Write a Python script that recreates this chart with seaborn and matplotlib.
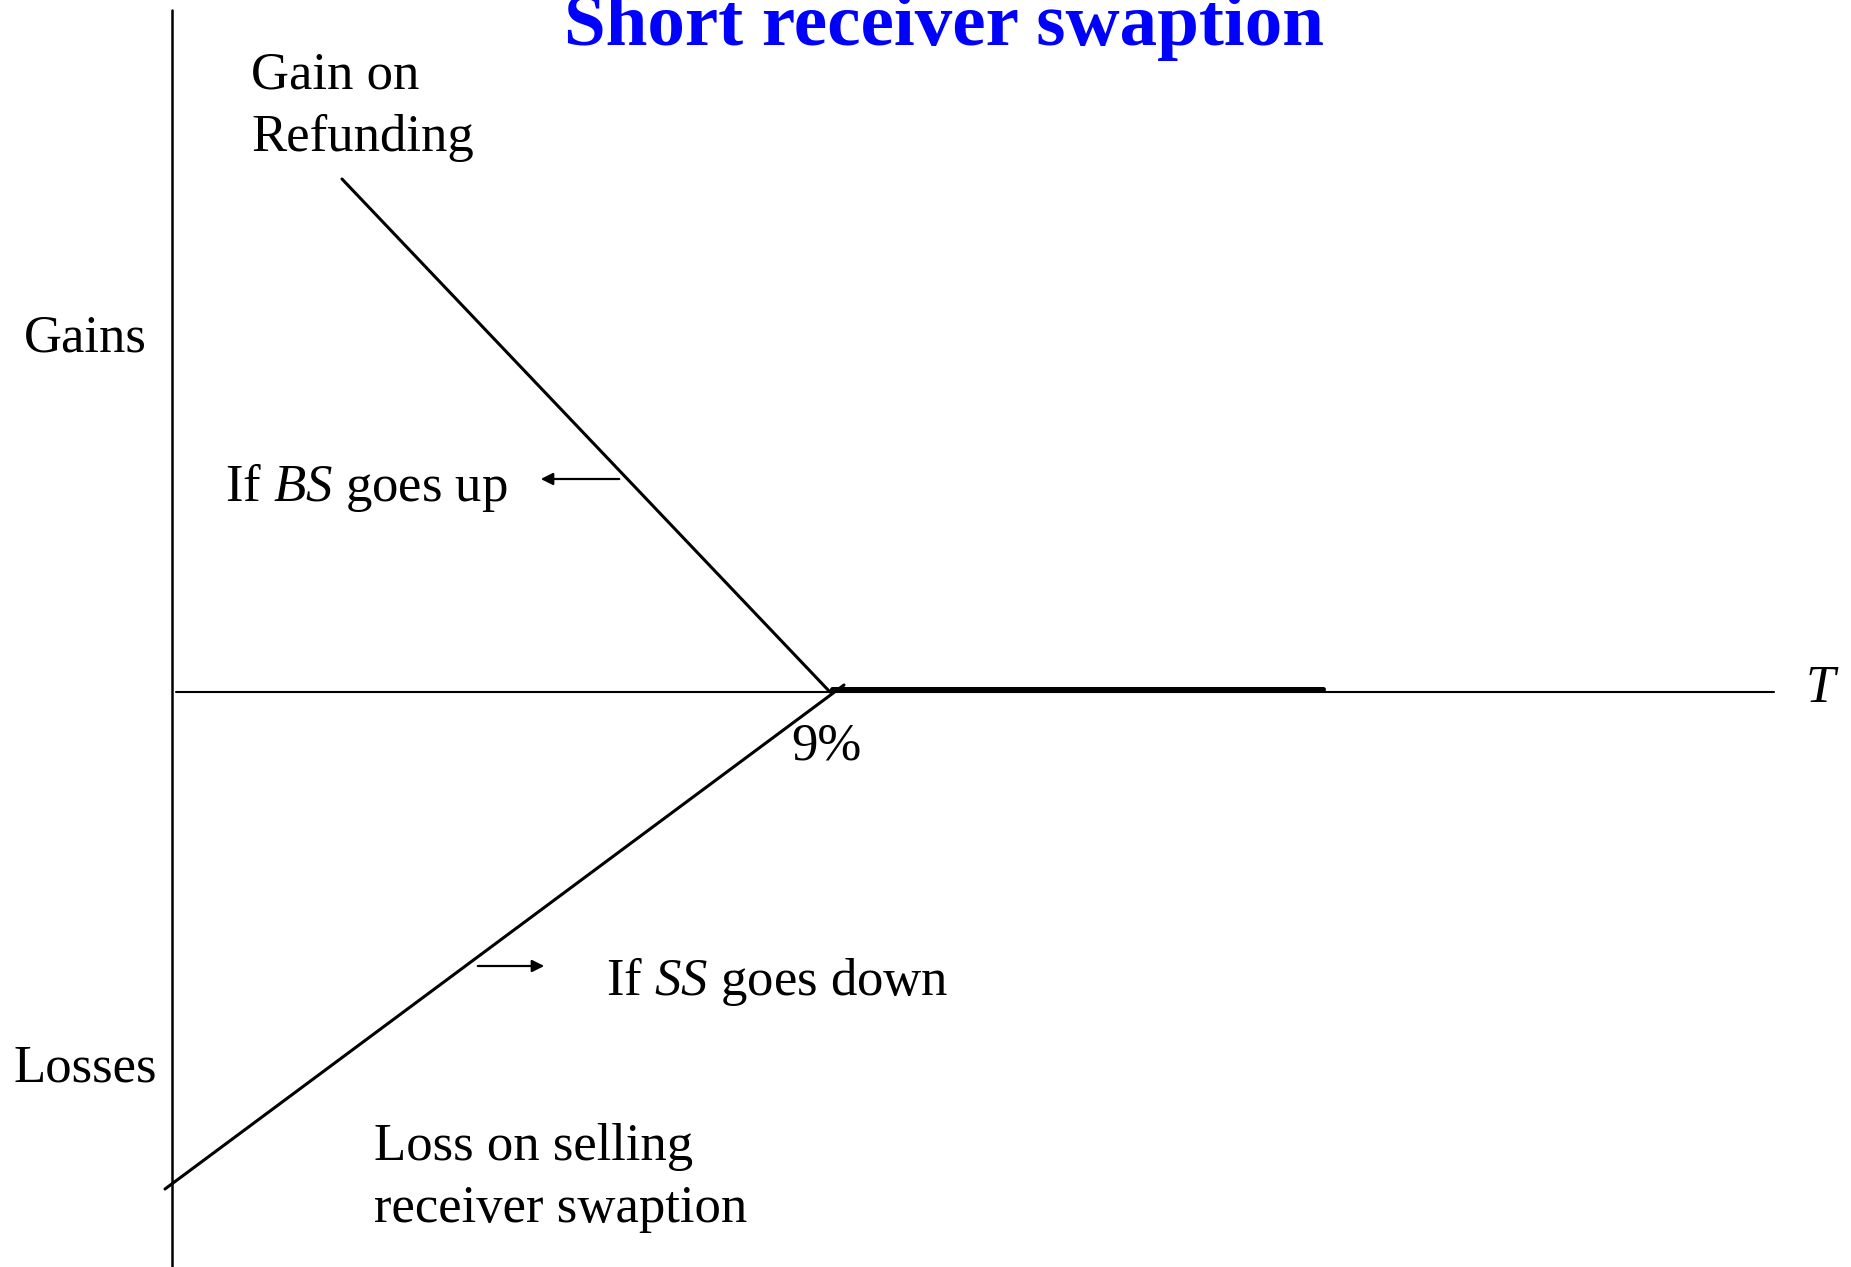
import matplotlib
matplotlib.use("Agg")
import pandas as pd
import seaborn as sns
import matplotlib.pyplot as plt

# Payoff diagram values (chart units: origin where the axes cross)
refund_x = [1.70, 6.58]
refund_y = [5.13, 0.00]
swaption_x = [-0.07, 6.72]
swaption_y = [-4.97, 0.07]
flat_x = [6.60, 11.51]
flat_y = [0.03, 0.03]

axis_top = 6.82
axis_bottom = -5.75
axis_right = 16.02
strike_label = "9%"

sns.set_theme(style="white")
plt.rcParams['font.family'] = ['Liberation Serif', 'DejaVu Serif']
plt.rcParams['text.color'] = 'black'
plt.rcParams['mathtext.fontset'] = 'custom'
plt.rcParams['mathtext.rm'] = 'Liberation Serif'
plt.rcParams['mathtext.it'] = 'Liberation Serif:italic'

fig = plt.figure(figsize=(18.51, 12.67), dpi=100)
ax = fig.add_axes([0, 0, 1, 1])

refund = pd.DataFrame({"x": refund_x, "y": refund_y})
swaption = pd.DataFrame({"x": swaption_x, "y": swaption_y})
flat = pd.DataFrame({"x": flat_x, "y": flat_y})

# axes of the diagram
ax.plot([0, 0], [axis_bottom, axis_top], color="black", lw=1.8)
ax.plot([0.04, axis_right], [0, 0], color="black", lw=1.5)

sns.lineplot(data=refund, x="x", y="y", ax=ax, color="black", lw=2.2)
sns.lineplot(data=swaption, x="x", y="y", ax=ax, color="black", lw=2.2)
sns.lineplot(data=flat, x="x", y="y", ax=ax, color="black", lw=3.6)

# arrows
ax.annotate("", xy=(3.66, 2.13), xytext=(4.50, 2.13),
            arrowprops=dict(arrowstyle="-|>", color="black", lw=1.6, mutation_scale=18))
ax.annotate("", xy=(3.75, -2.74), xytext=(3.03, -2.74),
            arrowprops=dict(arrowstyle="-|>", color="black", lw=1.6, mutation_scale=18))

fs = 38
ax.text(7.72, 6.47, "Short receiver swaption", color="#0000FF", fontsize=54,
        fontweight="bold", ha="center", va="baseline")
ax.text(0.79, 5.85, "Gain on\nRefunding", fontsize=fs, ha="left", va="center", linespacing=1.39)
ax.text(-1.48, 3.54, "Gains", fontsize=fs, ha="left", va="center")
ax.text(0.53, 2.04, "If $BS$ goes up", fontsize=fs, ha="left", va="center")
ax.text(16.34, 0.03, "T", fontsize=fs, style="italic", ha="left", va="center")
ax.text(6.19, -0.54, strike_label, fontsize=fs, ha="left", va="center")
ax.text(4.34, -2.89, "If $SS$ goes down", fontsize=fs, ha="left", va="center")
ax.text(-1.58, -3.77, "Losses", fontsize=fs, ha="left", va="center")
ax.text(2.02, -4.86, "Loss on selling\nreceiver swaption", fontsize=fs, ha="left",
        va="center", linespacing=1.39)

ax.set_xlim(-1.72, 16.79)
ax.set_ylim(-5.75, 6.92)
ax.axis("off")

fig.savefig("out.png", dpi=100)
